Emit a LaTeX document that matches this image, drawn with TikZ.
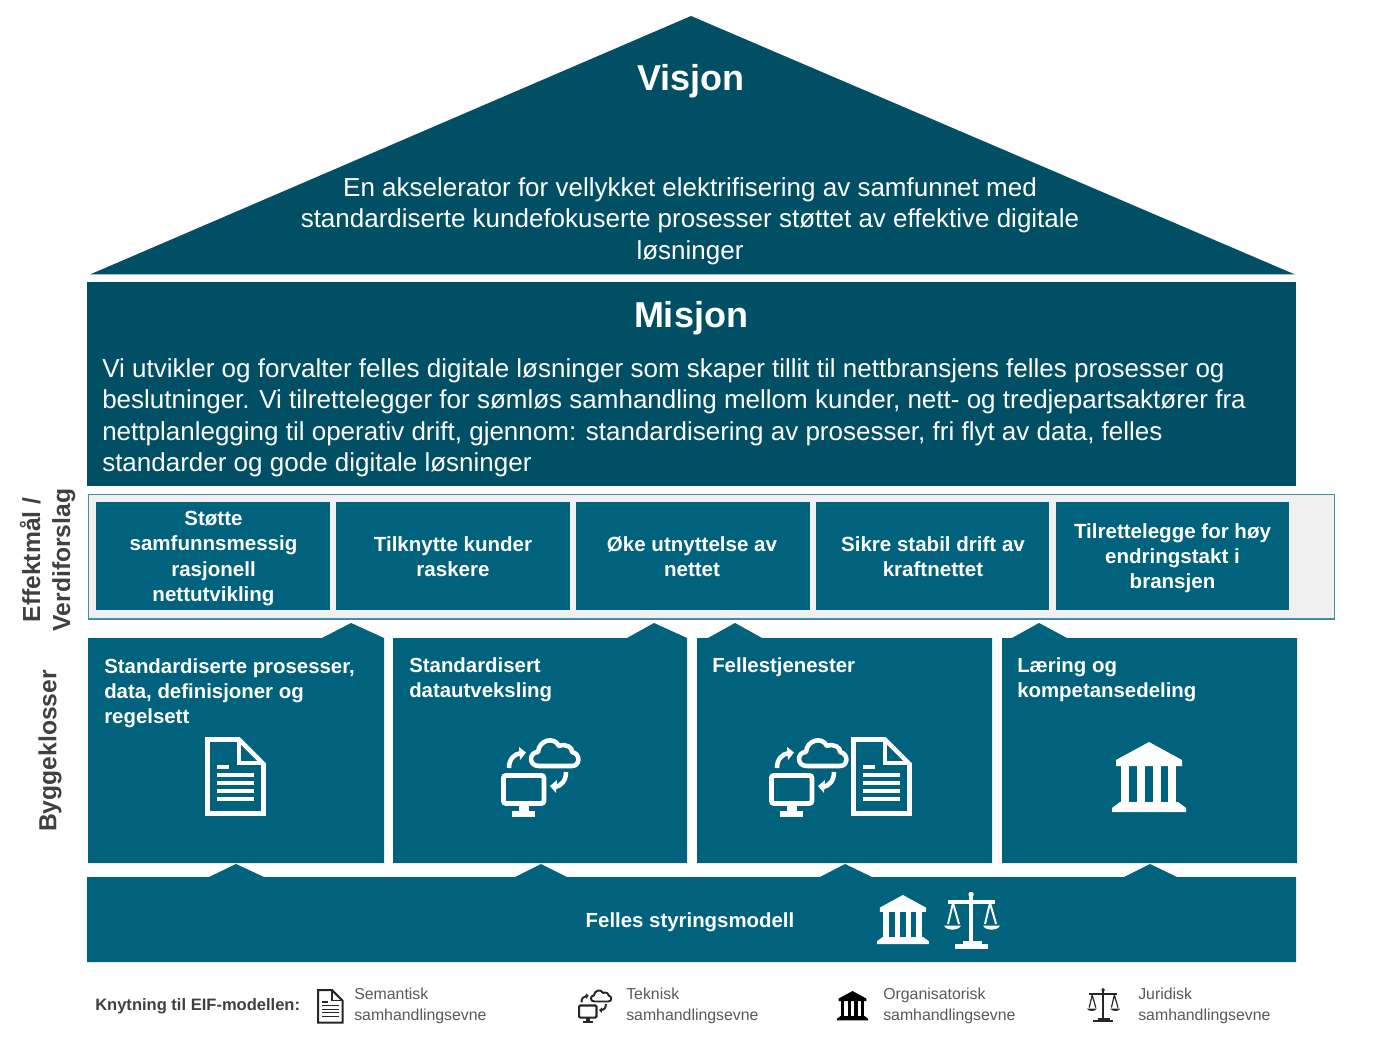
\documentclass[tikz,border=0pt]{standalone}
\usepackage{fontspec}
\setmainfont{Liberation Sans}
\definecolor{deep}{HTML}{004F65}
\definecolor{teal}{HTML}{00627D}
\definecolor{stripf}{HTML}{F0F0F0}
\definecolor{stripd}{HTML}{3F8FA6}
\definecolor{greyt}{HTML}{404040}
\definecolor{greyl}{HTML}{595959}
\tikzset{
  x=0.75pt,y=-0.75pt,
  deepshape/.style={fill=deep,draw=none},
  tealshape/.style={fill=teal,draw=none},
  title/.style={text=white,font=\fontsize{27}{32}\selectfont\bfseries,inner sep=0pt},
  bodytext/.style={text=white,font=\fontsize{19.5}{23.6}\selectfont,inner sep=0pt},
  effect/.style={fill=teal,draw=none,minimum height=81pt,inner sep=0pt},
  effecttext/.style={text=white,inner sep=0pt,align=center,
     font=\fontsize{15.4}{18.8}\selectfont\bfseries},
  blocktext/.style={text=white,anchor=north west,inner sep=0pt,align=left,
     font=\fontsize{15.3}{18.8}\selectfont\bfseries},
  sidelabel/.style={text=greyt,rotate=90,inner sep=0pt,align=center,
     font=\fontsize{18.5}{22.5}\selectfont\bfseries},
  eiftext/.style={text=greyl,anchor=north west,inner sep=0pt,align=left,
     font=\fontsize{11.9}{15.6}\selectfont},
  pics/docicon/.style={code={
    \begin{scope}[scale=#1]
      \draw[line width=3.4pt*#1,miter limit=4] (2.5,2.5) -- (34,2.5) -- (58.5,27) -- (58.5,76.5) -- (2.5,76.5) -- cycle;
      \draw[line width=3pt*#1] (34,2.5) -- (34,26) -- (58.5,26);
      \draw[line width=2.5pt*#1] (12,30) -- (24,30);
      \draw[line width=2.5pt*#1] (12,38) -- (49,38);
      \draw[line width=2.5pt*#1] (12,46) -- (49,46);
      \draw[line width=2.5pt*#1] (12,54) -- (49,54);
      \draw[line width=2.5pt*#1] (12,62) -- (49,62);
    \end{scope}}},
  pics/cloudicon/.style={code={
    \begin{scope}[scale=#1]
      \draw[line width=3.6pt*#1,rounded corners=2pt*#1] (2.4,38.4) rectangle (43,66.5);
      \fill (18,68) rectangle (28,75);
      \fill (11,74) rectangle (34,80);
      \draw[line width=3.4pt*#1,line join=round]
        (38,29) .. controls (27,29) and (28,15) .. (37,15)
        .. controls (38,3) and (53,-1) .. (58,9)
        .. controls (65,6) and (72,11) .. (71,15)
        .. controls (80,17) and (79,29) .. (71,29) -- cycle;
      \draw[line width=3.4pt*#1] (8,31) .. controls (8,22) and (13,17) .. (20,16);
      \fill (18,10) -- (25,15.5) -- (19,23) -- cycle;
      \draw[line width=3.4pt*#1] (65,35) .. controls (65,44) and (60,49) .. (54,50);
      \fill (56,43) -- (49,49) -- (55,56) -- cycle;
    \end{scope}}},
  pics/bankicon/.style={code={
    \begin{scope}[scale=#1]
      \fill (37,0) -- (70,18) -- (70,24) -- (4,24) -- (4,18) -- cycle;
      \fill (9,24) rectangle (17,60);
      \fill (25,24) rectangle (33,60);
      \fill (41,24) rectangle (49,60);
      \fill (56,24) rectangle (64,60);
      \fill (8,60) -- (66,60) -- (74,66) -- (74,70) -- (0,70) -- (0,66) -- cycle;
    \end{scope}}},
  pics/scaleicon/.style={code={
    \begin{scope}[scale=#1]
      \fill (23,0) rectangle (27,50);
      \fill[rounded corners=1pt*#1] (22.5,-1) rectangle (27.5,4);
      \fill (2,7) rectangle (49,10.5);
      \fill (17,48) rectangle (36,51);
      \fill (9,51) rectangle (42,55.5);
      \draw[line width=1.5pt*#1] (7,10) -- (2,31) (7,10) -- (13,31);
      \draw[line width=1.5pt*#1] (44,10) -- (39,31) (44,10) -- (50,31);
      \fill (-2,32.5) -- (15,32.5) .. controls (13,38) and (0,38) .. (-2,32.5) -- cycle;
      \fill (37,32.5) -- (54,32.5) .. controls (52,38) and (39,38) .. (37,32.5) -- cycle;
    \end{scope}}}
}
\begin{document}
\begin{tikzpicture}
\useasboundingbox (0,0) rectangle (1375,1048);
\fill[white] (0,0) rectangle (1375,1048);

% roof and mission
\fill[deepshape] (691,16) -- (1295,274.5) -- (90,274.5) -- cycle;
\fill[deepshape] (87,282) rectangle (1296,486);
\node[title] (visjon) at (691,81) {Visjon};
\node[bodytext,align=center] (visjontext) at (690,221) {En akselerator for vellykket elektrifisering av samfunnet med\\standardiserte kundefokuserte prosesser støttet av effektive digitale\\løsninger};
\node[title] (misjon) at (691,318) {Misjon};
\node[bodytext,align=left,anchor=north west] (misjontext) at (102,358) {Vi utvikler og forvalter felles digitale løsninger som skaper tillit til nettbransjens felles prosesser og\\beslutninger. Vi tilrettelegger for sømløs samhandling mellom kunder, nett- og tredjepartsaktører fra\\nettplanlegging til operativ drift, gjennom: standardisering av prosesser, fri flyt av data, felles\\standarder og gode digitale løsninger};

% effect strip
\draw[fill=stripf,draw=stripd,line width=0.9pt] (88.5,494.5) rectangle (1334.5,619);
\node[effect,minimum width=175.5pt] (e1) at (213,556) {};
\node[effect,minimum width=175.5pt] (e2) at (453,556) {};
\node[effect,minimum width=175.5pt] (e3) at (693,556) {};
\node[effect,minimum width=175pt] (e4) at (932.5,556) {};
\node[effect,minimum width=174.75pt] (e5) at (1172.5,556) {};
\node[effecttext] (t1) at (213.5,558.5) {Støtte\\samfunnsmessig\\rasjonell\\nettutvikling};
\node[effecttext] (t2) at (453,557) {Tilknytte kunder\\raskere};
\node[effecttext] (t3) at (692,557) {Øke utnyttelse av\\nettet};
\node[effecttext] (t4) at (933,557) {Sikre stabil drift av\\kraftnettet};
\node[effecttext] (t5) at (1172.5,558.5) {Tilrettelegge for høy\\endringstakt i\\bransjen};

% building blocks
\fill[tealshape] (88,638) -- (322,638) -- (351,623) -- (384,638) -- (384,863) -- (88,863) -- cycle;
\fill[tealshape] (393,638) -- (627,638) -- (654,623) -- (687,638) -- (687,863) -- (393,863) -- cycle;
\fill[tealshape] (697,638) -- (708,638) -- (735,623) -- (762,638) -- (992,638) -- (992,863) -- (697,863) -- cycle;
\fill[tealshape] (1002,638) -- (1012,638) -- (1039,623) -- (1067,638) -- (1297,638) -- (1297,863) -- (1002,863) -- cycle;
\node[blocktext] (b1) at (104,658) {Standardiserte prosesser,\\data, definisjoner og\\regelsett};
\node[blocktext] (b2) at (409,657) {Standardisert\\datautveksling};
\node[blocktext] (b3) at (712,657) {Fellestjenester};
\node[blocktext] (b4) at (1017,657) {Læring og\\kompetansedeling};
\pic[color=white] at (205,737) {docicon=1};
\pic[color=white] at (501,737) {cloudicon=1};
\pic[color=white] at (769,737) {cloudicon=1};
\pic[color=white] at (851,737) {docicon=1};
\pic[color=white] at (1112,742) {bankicon=1};

% governance bar
\fill[tealshape] (87,877) -- (209,877) -- (236,864) -- (264,877) -- (515,877) -- (541,864) -- (567,877)
  -- (820,877) -- (845,864) -- (872,877) -- (1124,877) -- (1150,864) -- (1177,877)
  -- (1296,877) -- (1296,962) -- (87,962) -- cycle;
\node[text=white,inner sep=0pt,font=\fontsize{15.3}{18.8}\selectfont\bfseries] (styring) at (690,922) {Felles styringsmodell};
\pic[color=white] at (877,895) {bankicon=.7};
\pic[color=white] at (946,893) {scaleicon=1};

% side labels
\node[sidelabel] (s1) at (47.5,560) {Effektmål /\\Verdiforslag};
\node[sidelabel] (s2) at (50,751) {Byggeklosser};

% legend
\node[text=greyt,inner sep=0pt,anchor=west,font=\fontsize{12.4}{15}\selectfont\bfseries] (eif) at (95,1006) {Knytning til EIF-modellen:};
\pic[color=black!85] at (317,989) {docicon=.44};
\node[eiftext] (l1) at (354,988) {Semantisk\\samhandlingsevne};
\pic[color=black!85] at (578,989) {cloudicon=.43};
\node[eiftext] (l2) at (626,988) {Teknisk\\samhandlingsevne};
\pic[color=black] at (837,991) {bankicon=.42};
\node[eiftext] (l3) at (883,988) {Organisatorisk\\samhandlingsevne};
\pic[color=black!85] at (1088,989) {scaleicon=.6};
\node[eiftext] (l4) at (1138,988) {Juridisk\\samhandlingsevne};
\end{tikzpicture}
\end{document}
